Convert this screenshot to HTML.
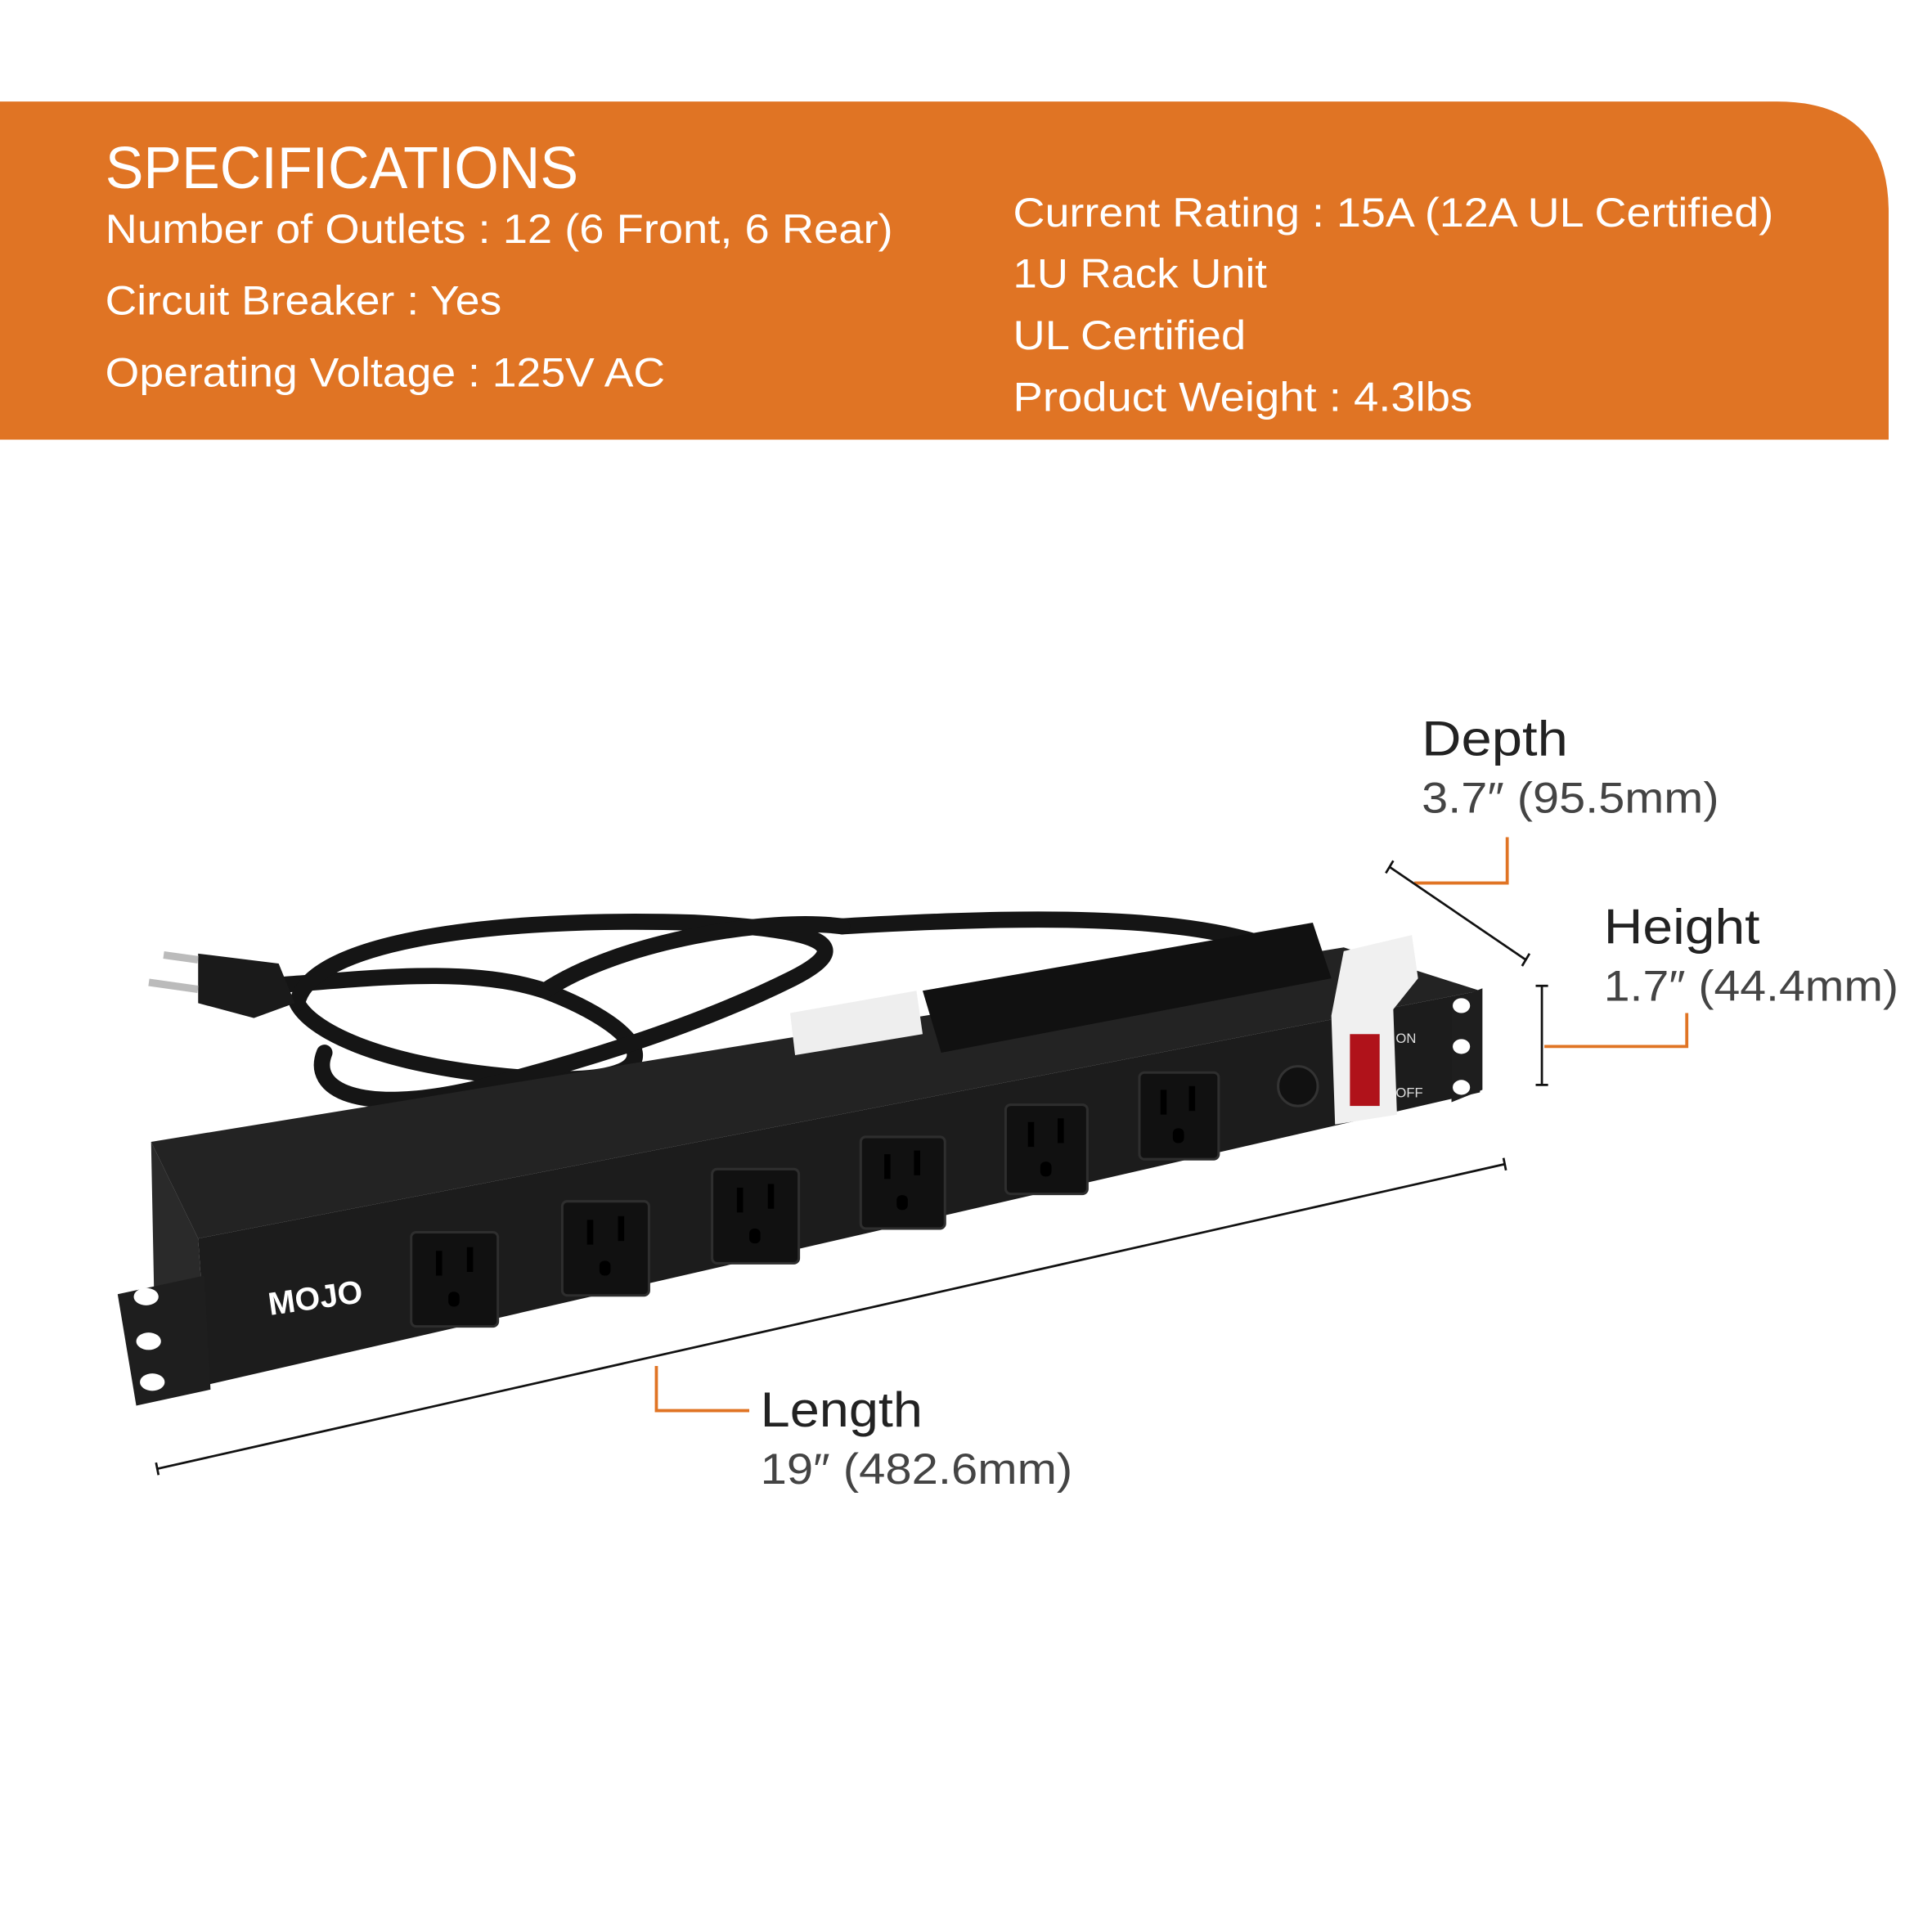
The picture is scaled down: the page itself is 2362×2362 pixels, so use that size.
<!DOCTYPE html>
<html><head><meta charset="utf-8"><style>
html,body{margin:0;padding:0;background:#fff;}
svg{display:block;}
text{font-family:"Liberation Sans",sans-serif;}
</style></head><body>
<svg width="2362" height="2362" viewBox="0 0 1560 1560" xmlns="http://www.w3.org/2000/svg">
<rect width="1560" height="1560" fill="#fff"/>
<path d="M0 82 H1435 Q1525 82 1525 172 V355 H0 Z" fill="#E07424"/>
<g fill="#fff" font-size="33">
<text x="85" y="152" font-size="48" textLength="382" lengthAdjust="spacingAndGlyphs">SPECIFICATIONS</text>
<text x="85" y="196" textLength="636" lengthAdjust="spacingAndGlyphs">Number of Outlets : 12 (6 Front, 6 Rear)</text>
<text x="85" y="254" textLength="320" lengthAdjust="spacingAndGlyphs">Circuit Breaker : Yes</text>
<text x="85" y="312" textLength="452" lengthAdjust="spacingAndGlyphs">Operating Voltage : 125V AC</text>
<text x="818" y="183" textLength="614" lengthAdjust="spacingAndGlyphs">Current Rating : 15A (12A UL Certified)</text>
<text x="818" y="232" textLength="205" lengthAdjust="spacingAndGlyphs">1U Rack Unit</text>
<text x="818" y="282" textLength="188" lengthAdjust="spacingAndGlyphs">UL Certified</text>
<text x="818" y="332" textLength="371" lengthAdjust="spacingAndGlyphs">Product Weight : 4.3lbs</text>
</g>
<!-- labels -->
<text x="1148" y="610" font-size="40" fill="#222" textLength="118" lengthAdjust="spacingAndGlyphs">Depth</text>
<text x="1148" y="656" font-size="35" fill="#444" textLength="240" lengthAdjust="spacingAndGlyphs">3.7″ (95.5mm)</text>
<text x="1295" y="762" font-size="40" fill="#222" textLength="126" lengthAdjust="spacingAndGlyphs">Height</text>
<text x="1295" y="808" font-size="35" fill="#444" textLength="238" lengthAdjust="spacingAndGlyphs">1.7″ (44.4mm)</text>
<text x="614" y="1152" font-size="40" fill="#222" textLength="131" lengthAdjust="spacingAndGlyphs">Length</text>
<text x="614" y="1198" font-size="35" fill="#444" textLength="252" lengthAdjust="spacingAndGlyphs">19″ (482.6mm)</text>
<g fill="none" stroke="#E07424" stroke-width="2.5">
<path d="M1217 676 V713 H1142"/>
<path d="M1362 818 V845 H1247"/>
<path d="M530 1103 V1139 H605"/>
</g>
<g stroke="#111" stroke-width="1.8" fill="none">
<path d="M1122 700 L1232 775 M1119 705 L1125 695 M1229 780 L1235 770"/>
<path d="M1245 796 V876 M1240 796 H1250 M1240 876 H1250"/>
<path d="M127 1186 L1215 940 M126 1181 L128 1191 M1214 935 L1216 945"/>
</g>
<!-- cord -->
<g fill="none" stroke="#151515" stroke-width="13" stroke-linecap="round">
<path d="M680 748 C900 735 1000 745 1060 780"/>
<path d="M230 795 C300 790 380 780 440 800 C520 830 560 880 420 870 C300 860 250 830 240 810"/>
<path d="M240 810 C250 760 400 740 560 745 C650 750 700 760 640 790 C560 830 460 860 380 880 C290 900 250 880 262 850"/>
<path d="M440 800 C500 760 620 740 680 748"/>
</g>
<!-- plug -->
<path d="M160 770 L225 778 L238 810 L205 822 L160 810 Z" fill="#1a1a1a"/>
<rect x="132" y="770" width="28" height="6" fill="#bbb" transform="rotate(8 146 773)"/>
<rect x="120" y="793" width="40" height="6" fill="#bbb" transform="rotate(8 140 796)"/>
<!-- body -->
<polygon points="122,922 1085,765 1195,800 160,1000" fill="#232323"/>
<polygon points="160,1000 1195,800 1195,882 168,1118" fill="#1c1c1c"/>
<polygon points="122,922 160,1000 168,1118 125,1075" fill="#2a2a2a"/>
<polygon points="95,1045 165,1030 170,1122 110,1135" fill="#1e1e1e"/>
<polygon points="1172,808 1197,798 1197,880 1172,890" fill="#1e1e1e"/>
<g fill="#fff">
<ellipse cx="118" cy="1047" rx="10" ry="7"/><ellipse cx="120" cy="1083" rx="10" ry="7"/><ellipse cx="123" cy="1116" rx="10" ry="7"/>
<ellipse cx="1180" cy="812" rx="7" ry="6"/><ellipse cx="1180" cy="845" rx="7" ry="6"/><ellipse cx="1180" cy="878" rx="7" ry="6"/>
</g>
<!-- stickers -->
<polygon points="638,818 740,800 745,835 642,852" fill="#eee"/>
<polygon points="745,800 1060,745 1075,790 760,850" fill="#111"/>
<text x="218" y="1062" font-size="26" font-weight="bold" fill="#fff" transform="rotate(-8 218 1062)">MOJO</text>
<!-- outlets -->
<g fill="#111" stroke="#2e2e2e" stroke-width="2">
<rect x="332" y="995" width="70" height="76" rx="4"/>
<rect x="454" y="970" width="70" height="76" rx="4"/>
<rect x="575" y="944" width="70" height="76" rx="4"/>
<rect x="695" y="918" width="68" height="74" rx="4"/>
<rect x="812" y="892" width="66" height="72" rx="4"/>
<rect x="920" y="866" width="64" height="70" rx="4"/>
</g>
<g fill="#000">
<rect x="352" y="1010" width="5" height="20"/><rect x="377" y="1007" width="5" height="20"/><rect x="362" y="1043" width="9" height="12" rx="4"/>
<rect x="474" y="985" width="5" height="20"/><rect x="499" y="982" width="5" height="20"/><rect x="484" y="1018" width="9" height="12" rx="4"/>
<rect x="595" y="959" width="5" height="20"/><rect x="620" y="956" width="5" height="20"/><rect x="605" y="992" width="9" height="12" rx="4"/>
<rect x="714" y="932" width="5" height="20"/><rect x="738" y="929" width="5" height="20"/><rect x="724" y="965" width="9" height="12" rx="4"/>
<rect x="830" y="906" width="5" height="20"/><rect x="854" y="903" width="5" height="20"/><rect x="840" y="938" width="9" height="12" rx="4"/>
<rect x="937" y="880" width="5" height="20"/><rect x="960" y="877" width="5" height="20"/><rect x="947" y="911" width="9" height="12" rx="4"/>
</g>
<circle cx="1048" cy="877" r="16" fill="#111" stroke="#333" stroke-width="2"/>
<!-- switch -->
<path d="M1085 768 L1140 755 L1145 790 L1125 815 L1128 900 L1078 908 L1075 820 Z" fill="#f0f0f0"/>
<rect x="1090" y="835" width="24" height="58" fill="#b0121a"/>
<text x="1127" y="842" font-size="11" fill="#ddd">ON</text>
<text x="1127" y="886" font-size="11" fill="#ddd">OFF</text>
</svg>
</body></html>
